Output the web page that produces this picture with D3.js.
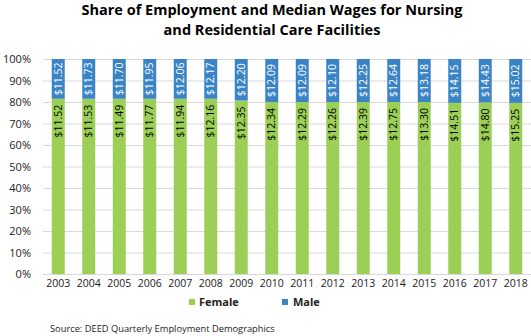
<!DOCTYPE html>
<html><head><meta charset="utf-8">
<script src="https://cdn.jsdelivr.net/npm/d3@7"></script>
<style>body{margin:0;background:#fff}svg{display:block}</style>
</head><body>
<svg id="c" width="531" height="336"></svg>
<script>
const years = ["2003","2004","2005","2006","2007","2008","2009","2010","2011","2012","2013","2014","2015","2016","2017","2018"];
const femaleShare = [81.5,81.5,81.5,81.5,81.5,81.5,80.7,80.0,80.0,80.0,80.0,80.0,80.0,79.6,79.8,79.6];
const femaleWage = [11.52,11.53,11.49,11.77,11.94,12.16,12.35,12.34,12.29,12.26,12.39,12.75,13.30,14.51,14.80,15.25];
const maleWage = [11.52,11.73,11.70,11.95,12.06,12.17,12.20,12.09,12.09,12.10,12.25,12.64,13.18,14.15,14.43,15.02];
const yTicks = [0,10,20,30,40,50,60,70,80,90,100];
const seriesNames = ["Female","Male"];
const colors = {Female:"#9BCF55", Male:"#3A84C6"};

const svg = d3.select("#c");
const font = "'Open Sans', sans-serif";
const x = d3.scaleBand().domain(years).range([43,531]).paddingInner(0.575).paddingOuter(0.2875);
const y = d3.scaleLinear().domain([0,100]).range([274,59]);

// title
const t = svg.append("text").attr("text-anchor","middle").attr("font-family",font)
  .attr("font-weight","bold").attr("font-size","14.5px").attr("fill","#000");
t.append("tspan").attr("x",272).attr("y",15).text("Share of Employment and Median Wages for Nursing");
t.append("tspan").attr("x",272).attr("y",35).text("and Residential Care Facilities");

// grid
svg.append("g").selectAll("line").data(yTicks).join("line")
  .attr("x1",43).attr("x2",531).attr("y1",d=>y(d)+0.5).attr("y2",d=>y(d)+0.5)
  .attr("stroke","#d9d9d9").attr("stroke-width",1);

// y axis labels
const yAxis = svg.append("g").attr("transform","translate(31,0)")
  .call(d3.axisLeft(y).tickValues(yTicks).tickFormat(d=>d+"%").tickSize(0).tickPadding(0));
yAxis.select(".domain").remove();
yAxis.selectAll("text").attr("font-family",font).attr("font-size","11px").attr("fill","#222");

// x axis labels
const xAxis = svg.append("g").attr("transform","translate(0,280)")
  .call(d3.axisBottom(x).tickSize(0).tickPadding(0));
xAxis.select(".domain").remove();
xAxis.selectAll("text").attr("font-family",font).attr("font-size","10.5px").attr("fill","#222");

const data = years.map((yr,i)=>({year:yr, Female:femaleShare[i], Male:100-femaleShare[i], fw:femaleWage[i], mw:maleWage[i]}));
const stack = d3.stack().keys(seriesNames)(data);

svg.append("g").selectAll("g").data(stack).join("g").attr("fill",d=>colors[d.key])
  .selectAll("rect").data(d=>d).join("rect")
  .attr("x",d=>x(d.data.year)).attr("width",x.bandwidth())
  .attr("y",d=>y(d[1])).attr("height",d=>y(d[0])-y(d[1]));

// labels
const lg = svg.append("g").attr("font-family",font).attr("font-size","10.5px");
data.forEach(d=>{
  const cx = x(d.year)+x.bandwidth()/2;
  const yb = y(d.Female);
  lg.append("text").attr("transform",`translate(${cx+3.7},${yb+6}) rotate(-90)`)
    .attr("text-anchor","end").attr("fill","#000").text("$"+d.fw.toFixed(2));
  const ym = (y(100)+yb)/2;
  lg.append("text").attr("transform",`translate(${cx+3.7},${ym}) rotate(-90)`)
    .attr("text-anchor","middle").attr("fill","#fff").text("$"+d.mw.toFixed(2));
});

// legend
const legPos = [{k:"Female",x:189},{k:"Male",x:282}];
const leg = svg.append("g").attr("font-family",font).attr("font-weight","bold").attr("font-size","11px");
legPos.forEach(p=>{
  leg.append("rect").attr("x",p.x).attr("y",299).attr("width",6).attr("height",6).attr("fill",colors[p.k]);
  leg.append("text").attr("x",p.x+(p.k==="Female"?10:11)).attr("y",306).attr("fill","#222").text(p.k);
});

svg.append("text").attr("x",50).attr("y",332).attr("font-family",font).attr("font-size","9.3px")
  .attr("fill","#222").text("Source: DEED Quarterly Employment Demographics");
</script>
</body></html>
